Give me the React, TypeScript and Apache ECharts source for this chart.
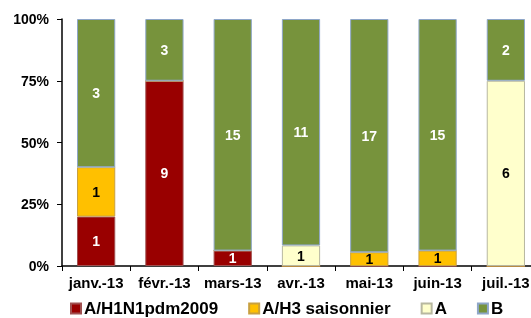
import React, { useEffect, useRef } from "react";
import * as echarts from "echarts";

const categories = ["janv.-13", "févr.-13", "mars-13", "avr.-13", "mai-13", "juin-13", "juil.-13"];
const seriesNames = ["A/H1N1pdm2009", "A/H3 saisonnier", "A", "B"];
const h1n1 = [1, 9, 1, 0, 0, 0, 0];
const h3 = [1, 0, 0, 0, 1, 1, 0];
const typeA = [0, 0, 0, 1, 0, 0, 6];
const typeB = [3, 3, 15, 11, 17, 15, 2];
const yTicks = [0, 25, 50, 75, 100];

const colors = ["#990000", "#ffc000", "#ffffcc", "#77933c"];
const borders = ["#a05050", "#c8a040", "#b8b8a0", "#8ea6c8"];
const labelColors = ["#ffffff", "#000000", "#000000", "#ffffff"];

export default function App() {
  const ref = useRef<HTMLDivElement>(null);
  useEffect(() => {
    if (!ref.current) return;
    const chart = echarts.init(ref.current, undefined, { renderer: "svg" });
    const raw = [h1n1, h3, typeA, typeB];
    const totals = categories.map((_, i) => raw.reduce((s, arr) => s + arr[i], 0));
    const font = "'Liberation Sans', Arial, sans-serif";
    chart.setOption({
      animation: false,
      textStyle: { fontFamily: font },
      grid: { left: 62, width: 478, top: 19, height: 247, containLabel: false },
      legend: {
        top: 295,
        left: 65,
        itemWidth: 10,
        itemHeight: 10,
        itemGap: 30,
        icon: "rect",
        textStyle: { fontSize: 17, fontWeight: "bold", color: "#000", fontFamily: font, padding: [0, 0, 0, -2] },
        data: seriesNames,
      },
      xAxis: {
        type: "category",
        data: categories,
        axisLine: { lineStyle: { color: "#000", width: 1.5 } },
        axisTick: { show: true, length: 5, lineStyle: { color: "#000" } },
        axisLabel: { fontSize: 15, fontWeight: "bold", color: "#000", margin: 9, fontFamily: font, interval: 0 },
      },
      yAxis: {
        type: "value",
        min: 0,
        max: 100,
        interval: 25,
        axisLine: { show: true, lineStyle: { color: "#000", width: 1.5 } },
        axisTick: { show: true, length: 5, inside: false, lineStyle: { color: "#000" } },
        splitLine: { show: false },
        axisLabel: {
          fontSize: 14,
          fontWeight: "bold",
          color: "#000",
          margin: 13,
          fontFamily: font,
          formatter: (v: number) => (yTicks.includes(v) ? v + "%" : ""),
        },
      },
      series: raw.map((arr, si) => ({
        name: seriesNames[si],
        type: "bar",
        stack: "total",
        barWidth: "56%",
        itemStyle: { color: colors[si], borderColor: borders[si], borderWidth: 1 },
        label: {
          show: true,
          position: "inside",
          color: labelColors[si],
          fontSize: 14,
          fontWeight: "bold",
          fontFamily: font,
          formatter: (p: any) => (arr[p.dataIndex] ? String(arr[p.dataIndex]) : ""),
        },
        data: arr.map((v, i) => (v / totals[i]) * 100),
      })),
    });
    return () => chart.dispose();
  }, []);
  return (
    <div style={{ position: "fixed", left: 0, top: 0, width: 531, height: 318, overflow: "hidden" }}>
      <div ref={ref} style={{ width: 560, height: 318 }} />
    </div>
  );
}
